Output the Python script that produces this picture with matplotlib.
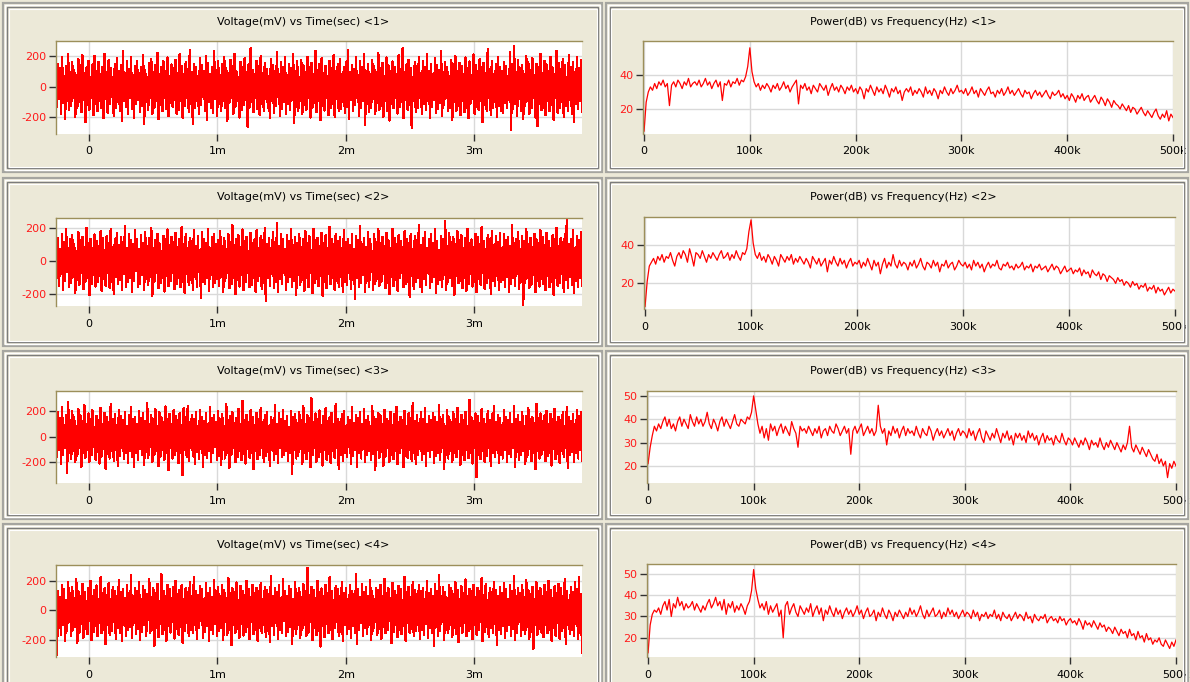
import matplotlib
matplotlib.use("Agg")
import matplotlib.pyplot as plt
import numpy as np
from matplotlib.patches import Rectangle
from matplotlib.ticker import EngFormatter, FixedLocator, MultipleLocator

plt.rcParams['font.family'] = ['DejaVu Sans']
plt.rcParams['axes.unicode_minus'] = False
plt.rcParams['path.simplify'] = False

# 4096 samples at 1 MHz, record starts 256 us before trigger
t_start, t_stop = -0.256e-3, 3.84e-3
f_start, f_stop = 0.0, 500e3

# display envelope of each channel (mV): max / min of the samples per screen column
hi1 = [85, 150, 120, 190, 70, 135, 210, 95, 160, 110, 75, 180, 140, 205, 90, 125, 170, 65, 145, 200,
       105, 160, 80, 130, 215, 95, 175, 120, 60, 150, 185, 100, 140, 230, 85, 165, 115, 195, 75, 135,
       170, 90, 125, 205, 110, 65, 155, 180, 95, 140, 220, 80, 130, 165, 105, 190, 70, 145, 120, 175,
       90, 210, 135, 80, 160, 115, 240, 95, 150, 125, 70, 185, 140, 100, 200, 155, 85, 130, 230, 110,
       165, 75, 145, 195, 120, 90, 175, 135, 215, 100, 65, 160, 125, 185, 95, 145, 250, 110, 80, 170,
       135, 200, 90, 155, 115, 70, 180, 140, 105, 225, 85, 160, 130, 190, 75, 145, 120, 210, 100, 165,
       60, 175, 140, 95, 195, 125, 155, 80, 235, 110, 150, 185, 90, 135, 70, 170, 120, 205, 100, 145,
       180, 85, 130, 160, 240, 95, 140, 115, 190, 75, 165, 125, 210, 105, 150, 80, 175, 135, 95, 220,
       120, 155, 70, 190, 140, 100, 165, 130, 85, 205, 115, 250, 95, 145, 175, 120, 65, 160, 135, 195,
       90, 170, 125, 215, 105, 150, 80, 185, 140, 110, 230, 95, 160, 130, 70, 175, 145, 200, 100, 155,
       135, 85, 190, 120, 165, 75, 210, 140, 100, 180, 125, 155, 90, 245, 115, 170, 80, 145, 195, 130,
       105, 160, 135, 70, 225, 150, 267, 95, 175, 120, 140, 85, 200, 160, 110, 185, 75, 150, 130, 215,
       90, 170, 145, 100, 195, 125, 80, 235, 155, 115, 180, 140, 65, 205, 130, 160, 95, 190, 120, 175]
lo1 = [-130, -80, -175, -105, -210, -90, -150, -125, -70, -195, -140, -100, -165, -85, -230, -120, -150, -75, -185, -110,
       -160, -95, -140, -205, -80, -170, -115, -65, -190, -135, -100, -155, -220, -90, -130, -175, -70, -145, -200, -110,
       -85, -165, -125, -240, -100, -150, -75, -180, -135, -95, -210, -120, -160, -70, -145, -190, -105, -130, -85, -175,
       -150, -90, -200, -125, -75, -165, -110, -245, -140, -95, -180, -120, -65, -155, -215, -100, -135, -170, -80, -190,
       -115, -160, -90, -140, -225, -105, -70, -175, -130, -95, -200, -150, -120, -85, -260, -135, -100, -165, -75, -145,
       -185, -110, -155, -80, -135, -205, -95, -170, -125, -65, -190, -145, -100, -175, -115, -150, -85, -235, -130, -160,
       -95, -180, -120, -150, -75, -200, -135, -105, -165, -90, -215, -125, -155, -70, -185, -140, -110, -195, -80, -160,
       -145, -100, -170, -130, -210, -85, -155, -120, -75, -190, -140, -95, -250, -115, -165, -135, -80, -180, -105, -150,
       -125, -195, -90, -160, -220, -110, -140, -70, -175, -130, -100, -205, -85, -150, -120, -270, -95, -165, -135, -75,
       -180, -115, -150, -95, -200, -130, -85, -170, -145, -105, -190, -120, -70, -160, -135, -215, -100, -155, -125, -185,
       -90, -165, -140, -205, -110, -80, -175, -130, -150, -95, -230, -120, -160, -75, -185, -140, -100, -195, -125, -155,
       -170, -105, -135, -85, -280, -145, -115, -190, -80, -160, -210, -125, -95, -175, -140, -70, -200, -255, -110, -150,
       -135, -185, -95, -160, -120, -215, -75, -170, -140, -100, -195, -125, -155, -85, -180, -230, -110, -145, -90, -165]

hi2 = [95, 140, 70, 165, 115, 190, 80, 130, 155, 100, 60, 175, 125, 145, 85, 200, 110, 135, 75, 160,
       120, 90, 180, 140, 65, 150, 105, 195, 85, 130, 170, 95, 145, 115, 210, 75, 160, 125, 100, 185,
       135, 70, 155, 110, 175, 90, 140, 200, 80, 125, 165, 105, 60, 150, 130, 190, 95, 145, 115, 170,
       85, 135, 205, 100, 160, 75, 140, 120, 185, 90, 150, 65, 175, 130, 110, 195, 80, 145, 160, 100,
       125, 180, 90, 140, 70, 165, 115, 215, 95, 135, 155, 85, 190, 120, 145, 60, 170, 105, 130, 185,
       75, 150, 125, 200, 100, 140, 80, 175, 115, 228, 90, 160, 135, 70, 155, 120, 190, 95, 145, 110,
       165, 85, 130, 180, 105, 150, 65, 195, 125, 140, 90, 170, 110, 155, 75, 205, 135, 100, 160, 120,
       145, 80, 185, 115, 135, 95, 165, 70, 150, 125, 210, 100, 140, 85, 175, 130, 60, 160, 115, 190,
       105, 145, 90, 170, 125, 75, 195, 140, 100, 155, 120, 85, 180, 135, 110, 165, 70, 150, 125, 215,
       95, 140, 175, 80, 130, 160, 105, 190, 120, 65, 150, 135, 240, 90, 170, 115, 145, 100, 180, 125,
       155, 75, 140, 195, 110, 130, 85, 165, 145, 100, 205, 120, 70, 155, 135, 180, 95, 150, 115, 170,
       80, 160, 125, 145, 90, 220, 105, 135, 175, 70, 150, 120, 195, 100, 140, 85, 165, 130, 110, 185,
       145, 95, 170, 120, 75, 155, 135, 200, 90, 140, 115, 165, 250, 100, 130, 185, 80, 150, 125, 175]
lo2 = [-105, -150, -80, -175, -120, -65, -160, -135, -95, -195, -115, -145, -75, -170, -125, -100, -205, -140, -85, -155,
       -130, -90, -180, -110, -150, -70, -165, -125, -200, -95, -140, -115, -175, -80, -155, -130, -100, -190, -120, -60,
       -160, -140, -85, -175, -110, -145, -95, -210, -125, -75, -165, -135, -105, -185, -90, -150, -120, -70, -170, -140,
       -100, -160, -130, -195, -80, -145, -115, -175, -95, -155, -65, -225, -125, -140, -105, -180, -85, -160, -135, -110,
       -150, -95, -190, -120, -75, -165, -140, -100, -200, -115, -155, -85, -175, -130, -70, -160, -145, -105, -185, -120,
       -90, -170, -135, -245, -100, -150, -80, -165, -125, -190, -110, -140, -75, -175, -130, -95, -155, -120, -205, -85,
       -145, -115, -180, -100, -160, -70, -195, -135, -110, -150, -90, -210, -125, -165, -80, -140, -105, -175, -120, -155,
       -95, -185, -130, -145, -75, -170, -115, -230, -100, -155, -135, -85, -190, -120, -160, -65, -175, -140, -110, -150,
       -125, -80, -165, -135, -200, -95, -150, -115, -180, -105, -70, -160, -140, -125, -215, -90, -170, -130, -100, -155,
       -185, -110, -145, -75, -165, -125, -95, -195, -140, -115, -160, -85, -175, -130, -105, -150, -205, -90, -135, -120,
       -165, -100, -180, -140, -80, -155, -125, -190, -110, -145, -70, -170, -135, -100, -200, -120, -150, -90, -175, -130,
       -115, -160, -95, -185, -140, -105, -150, -80, -170, -125, -268, -135, -100, -165, -145, -85, -190, -120, -155, -110,
       -140, -175, -90, -160, -125, -205, -100, -150, -135, -80, -185, -115, -165, -95, -145, -195, -120, -160, -105, -150]

hi3 = [110, 190, 145, 230, 90, 170, 270, 125, 200, 150, 85, 215, 165, 120, 245, 100, 180, 140, 205, 75,
       160, 130, 225, 95, 185, 150, 115, 250, 140, 175, 90, 210, 160, 125, 195, 80, 170, 230, 135, 155,
       100, 200, 145, 180, 120, 260, 95, 165, 135, 215, 85, 190, 150, 110, 235, 140, 175, 100, 205, 160,
       125, 180, 90, 220, 150, 240, 115, 170, 135, 195, 80, 210, 155, 120, 185, 100, 230, 145, 165, 110,
       200, 135, 175, 85, 250, 125, 160, 190, 105, 145, 215, 95, 280, 130, 170, 115, 205, 150, 90, 185,
       140, 225, 110, 165, 195, 85, 155, 130, 245, 100, 180, 140, 210, 120, 160, 75, 200, 150, 175, 105,
       190, 125, 235, 95, 165, 145, 300, 110, 180, 135, 205, 90, 160, 220, 120, 150, 185, 100, 255, 140,
       115, 175, 200, 85, 155, 130, 230, 105, 170, 145, 190, 95, 215, 125, 160, 80, 240, 150, 135, 185,
       165, 100, 210, 140, 120, 195, 90, 175, 230, 110, 155, 130, 200, 85, 180, 145, 265, 120, 165, 105,
       190, 140, 220, 95, 160, 125, 185, 150, 110, 245, 135, 170, 80, 205, 155, 115, 190, 140, 225, 100,
       170, 130, 195, 85, 285, 150, 120, 180, 160, 105, 215, 140, 95, 200, 130, 175, 240, 110, 165, 145,
       90, 205, 155, 125, 185, 100, 235, 140, 170, 115, 195, 80, 160, 220, 135, 150, 105, 255, 145, 180,
       120, 165, 200, 95, 175, 140, 215, 110, 155, 130, 190, 85, 230, 150, 120, 175, 100, 210, 160, 195]
lo3 = [-160, -100, -215, -140, -85, -280, -125, -175, -110, -200, -150, -90, -235, -130, -165, -105, -195, -145, -80, -180,
       -120, -210, -155, -95, -250, -135, -170, -115, -190, -100, -225, -150, -85, -175, -130, -205, -110, -160, -240, -125,
       -185, -95, -145, -220, -120, -165, -80, -200, -140, -110, -230, -155, -100, -180, -125, -260, -90, -170, -145, -115,
       -205, -130, -300, -105, -160, -190, -85, -150, -215, -120, -175, -95, -235, -140, -165, -110, -195, -130, -80, -185,
       -150, -220, -100, -170, -125, -245, -140, -90, -200, -160, -115, -185, -135, -210, -95, -165, -130, -255, -110, -175,
       -140, -85, -195, -150, -120, -230, -100, -180, -135, -205, -90, -160, -145, -115, -190, -125, -290, -105, -170, -150,
       -95, -215, -130, -175, -110, -240, -145, -85, -195, -160, -120, -225, -100, -180, -135, -205, -115, -165, -90, -250,
       -140, -190, -125, -160, -80, -210, -150, -105, -235, -130, -170, -95, -200, -145, -115, -185, -135, -260, -100, -165,
       -120, -225, -155, -90, -195, -140, -175, -110, -215, -130, -85, -240, -150, -165, -105, -190, -125, -210, -145, -95,
       -180, -135, -230, -115, -160, -100, -205, -150, -125, -185, -90, -250, -140, -170, -110, -200, -130, -160, -95, -220,
       -145, -185, -105, -165, -125, -210, -90, -315, -140, -175, -115, -195, -150, -85, -230, -130, -160, -105, -205, -140,
       -170, -100, -200, -135, -155, -90, -240, -120, -180, -145, -110, -215, -160, -95, -190, -130, -255, -115, -170, -140,
       -100, -190, -150, -125, -225, -95, -175, -135, -205, -110, -160, -85, -245, -145, -120, -195, -130, -170, -105, -185]

hi4 = [220, 130, 90, 175, 145, 70, 195, 115, 160, 85, 210, 135, 100, 180, 125, 65, 155, 200, 95, 140,
       170, 80, 225, 120, 150, 105, 185, 75, 160, 135, 95, 205, 125, 145, 85, 170, 115, 240, 100, 155,
       130, 190, 75, 165, 140, 110, 215, 90, 150, 120, 180, 65, 245, 135, 100, 175, 145, 85, 160, 200,
       110, 140, 170, 80, 155, 125, 190, 95, 230, 135, 105, 165, 145, 75, 185, 120, 150, 90, 205, 130,
       160, 100, 175, 140, 85, 220, 115, 150, 125, 190, 70, 165, 135, 105, 200, 145, 90, 175, 120, 155,
       130, 185, 80, 160, 140, 110, 235, 95, 150, 125, 170, 85, 210, 135, 100, 165, 145, 75, 195, 120,
       155, 90, 180, 130, 290, 105, 160, 140, 85, 200, 125, 150, 95, 175, 115, 225, 135, 70, 165, 145,
       100, 190, 120, 155, 80, 170, 135, 110, 250, 145, 90, 180, 125, 160, 100, 205, 130, 75, 155, 140,
       175, 95, 215, 120, 150, 85, 185, 135, 105, 165, 145, 70, 230, 125, 160, 90, 195, 140, 110, 175,
       130, 155, 80, 200, 120, 145, 100, 180, 135, 240, 95, 160, 125, 85, 170, 150, 110, 190, 140, 75,
       165, 120, 210, 100, 145, 130, 175, 90, 155, 135, 220, 105, 180, 70, 150, 125, 195, 140, 95, 160,
       115, 185, 145, 80, 170, 130, 235, 100, 155, 120, 175, 90, 205, 140, 110, 160, 75, 190, 130, 150,
       95, 175, 125, 200, 140, 85, 165, 115, 180, 150, 100, 215, 135, 70, 160, 125, 190, 145, 228, 110]
lo4 = [-300, -120, -165, -95, -205, -140, -80, -175, -130, -110, -220, -150, -90, -185, -125, -160, -70, -200, -145, -105,
       -175, -85, -155, -130, -230, -100, -165, -140, -75, -190, -120, -150, -210, -95, -170, -135, -110, -185, -85, -160,
       -125, -200, -145, -100, -175, -65, -155, -130, -240, -115, -180, -90, -160, -135, -205, -105, -150, -80, -190, -125,
       -165, -110, -220, -140, -85, -175, -130, -155, -95, -195, -120, -70, -185, -145, -105, -210, -130, -160, -90, -175,
       -140, -115, -200, -80, -165, -135, -235, -100, -150, -125, -185, -90, -170, -145, -110, -195, -75, -160, -130, -205,
       -120, -155, -95, -180, -140, -215, -105, -165, -85, -190, -130, -150, -70, -175, -145, -110, -225, -125, -160, -95,
       -185, -135, -100, -170, -150, -80, -200, -120, -165, -140, -245, -105, -180, -90, -155, -130, -195, -115, -75, -170,
       -145, -210, -95, -160, -125, -185, -105, -150, -230, -135, -85, -175, -120, -160, -100, -200, -140, -80, -165, -125,
       -190, -110, -155, -135, -70, -220, -145, -95, -180, -130, -160, -105, -205, -85, -150, -125, -175, -140, -100, -195,
       -135, -165, -90, -185, -120, -150, -240, -110, -170, -140, -80, -200, -130, -155, -95, -180, -115, -160, -215, -105,
       -150, -85, -175, -140, -125, -195, -100, -165, -130, -75, -210, -145, -110, -180, -120, -155, -90, -235, -135, -160,
       -105, -185, -140, -95, -170, -125, -200, -150, -80, -175, -130, -160, -110, -190, -145, -260, -100, -165, -125, -150,
       -180, -95, -155, -135, -205, -115, -170, -85, -190, -140, -120, -225, -100, -160, -135, -175, -90, -195, -150, -290]

# power spectra (dB), 0..500 kHz in 2 kHz bins
s1 = [7, 24, 30, 33, 31, 35, 32, 36, 34, 37, 33, 35, 22, 34, 36, 33, 37, 35, 32, 36, 34, 38, 33, 35, 36,
      34, 37, 33, 35, 38, 34, 36, 32, 35, 37, 33, 36, 25, 35, 34, 37, 33, 36, 35, 38, 34, 37, 36, 39, 45,
      56, 42, 36, 33, 35, 31, 34, 32, 35, 33, 30, 34, 32, 35, 31, 33, 36, 32, 34, 30, 33, 35, 37, 23, 34,
      32, 35, 31, 33, 29, 34, 32, 30, 35, 33, 31, 34, 28, 32, 35, 31, 33, 30, 34, 32, 29, 33, 31, 34, 30,
      32, 29, 33, 31, 26, 32, 30, 34, 31, 28, 33, 30, 32, 29, 34, 31, 27, 32, 30, 33, 29, 31, 25, 30, 32,
      30, 33, 28, 31, 29, 32, 30, 27, 33, 29, 31, 28, 32, 30, 26, 31, 29, 33, 30, 28, 32, 29, 31, 34, 30,
      31, 29, 32, 28, 30, 33, 29, 31, 27, 32, 30, 28, 31, 33, 29, 30, 27, 31, 29, 32, 28, 30, 33, 29, 31,
      28, 30, 32, 29, 27, 31, 29, 30, 26, 29, 31, 28, 30, 27, 29, 31, 28, 26, 30, 28, 29, 31, 27, 29, 26,
      28, 25, 29, 27, 24, 28, 26, 29, 25, 27, 28, 24, 26, 28, 25, 23, 27, 25, 22, 26, 24, 21, 25, 23, 22,
      20, 23, 21, 19, 22, 18, 21, 20, 17, 19, 21, 18, 16, 19, 17, 15, 18, 20, 16, 14, 17, 15, 19, 13, 17, 15]

s2 = [8, 21, 29, 31, 33, 30, 34, 32, 35, 31, 34, 33, 36, 32, 29, 34, 36, 33, 37, 35, 31, 38, 34, 29, 36,
      35, 33, 37, 34, 31, 35, 33, 36, 34, 32, 35, 37, 33, 34, 36, 32, 35, 33, 37, 34, 32, 36, 35, 38, 47,
      53, 41, 35, 33, 36, 32, 34, 31, 35, 33, 30, 34, 32, 29, 35, 33, 31, 34, 32, 35, 30, 33, 31, 34, 32,
      30, 33, 31, 28, 34, 32, 30, 33, 29, 31, 33, 26, 32, 30, 34, 31, 29, 33, 30, 32, 28, 31, 33, 29, 31,
      30, 32, 28, 31, 29, 33, 30, 27, 32, 29, 31, 25, 30, 33, 28, 31, 29, 35, 30, 28, 32, 29, 31, 30, 27,
      31, 29, 32, 28, 30, 33, 29, 27, 31, 30, 28, 32, 29, 31, 26, 30, 29, 32, 28, 30, 31, 27, 29, 32, 30,
      29, 31, 28, 30, 27, 32, 29, 31, 28, 30, 26, 29, 31, 28, 30, 29, 32, 28, 27, 30, 29, 31, 28, 29, 27,
      30, 28, 29, 31, 27, 29, 28, 30, 26, 29, 28, 30, 27, 28, 29, 26, 28, 30, 27, 29, 28, 25, 27, 29, 26,
      27, 28, 25, 27, 26, 28, 24, 27, 25, 26, 23, 27, 25, 24, 26, 22, 25, 24, 21, 24, 23, 22, 20, 23, 21,
      22, 19, 21, 20, 18, 21, 19, 20, 17, 19, 18, 20, 16, 18, 17, 19, 15, 18, 16, 17, 14, 16, 18, 15, 17, 16]

s3 = [21, 28, 33, 37, 35, 38, 36, 39, 41, 37, 40, 36, 38, 35, 39, 41, 37, 40, 38, 36, 42, 39, 37, 41, 38,
      40, 37, 39, 43, 38, 36, 40, 38, 35, 39, 41, 37, 40, 38, 36, 39, 42, 38, 37, 40, 39, 38, 41, 40, 43,
      50, 44, 38, 34, 37, 32, 36, 31, 38, 35, 37, 33, 36, 38, 34, 37, 35, 33, 39, 36, 34, 28, 37, 35, 36,
      34, 37, 35, 33, 36, 34, 37, 32, 35, 36, 33, 37, 35, 34, 38, 36, 33, 35, 37, 34, 36, 25, 35, 37, 34,
      36, 38, 33, 35, 37, 34, 36, 33, 35, 46, 37, 34, 36, 29, 35, 33, 37, 34, 36, 32, 35, 37, 33, 36, 34,
      35, 33, 37, 34, 32, 36, 34, 33, 37, 35, 31, 34, 36, 33, 35, 32, 34, 36, 33, 35, 31, 34, 36, 33, 35,
      34, 32, 36, 33, 35, 31, 34, 36, 32, 30, 35, 33, 31, 34, 32, 36, 33, 30, 34, 32, 35, 31, 33, 29, 34,
      32, 34, 31, 33, 30, 35, 32, 34, 31, 33, 29, 32, 34, 30, 33, 31, 32, 29, 33, 31, 30, 34, 31, 29, 32,
      31, 29, 32, 30, 28, 31, 29, 32, 30, 27, 31, 29, 30, 28, 32, 29, 27, 30, 28, 31, 29, 27, 30, 28, 26,
      29, 27, 30, 37, 28, 26, 29, 27, 25, 28, 26, 24, 27, 25, 23, 22, 25, 21, 23, 20, 22, 15, 21, 19, 22, 20]

s4 = [13, 26, 31, 33, 32, 34, 31, 35, 37, 33, 38, 30, 36, 34, 39, 35, 37, 33, 36, 34, 35, 37, 33, 36, 34,
      32, 35, 33, 36, 38, 34, 36, 39, 35, 37, 33, 38, 31, 36, 34, 37, 32, 35, 33, 36, 34, 31, 35, 37, 42,
      52, 43, 38, 34, 36, 33, 37, 31, 35, 32, 34, 36, 30, 33, 20, 35, 37, 31, 34, 36, 32, 30, 35, 33, 31,
      34, 32, 36, 30, 33, 35, 31, 34, 28, 33, 31, 35, 32, 30, 34, 31, 33, 29, 32, 34, 31, 33, 30, 32, 35,
      31, 33, 29, 32, 34, 30, 31, 33, 28, 32, 30, 34, 31, 29, 33, 31, 28, 32, 30, 33, 31, 29, 32, 30, 34,
      31, 33, 30, 32, 35, 31, 29, 33, 30, 32, 34, 30, 31, 33, 29, 32, 30, 34, 31, 33, 30, 32, 29, 31, 33,
      30, 32, 31, 29, 33, 30, 32, 28, 31, 30, 32, 29, 31, 30, 33, 29, 31, 28, 32, 30, 29, 31, 28, 30, 32,
      29, 31, 30, 28, 32, 29, 30, 27, 31, 29, 28, 30, 29, 31, 27, 29, 30, 28, 29, 27, 30, 28, 29, 26, 28,
      29, 27, 28, 26, 29, 27, 24, 28, 26, 27, 25, 28, 26, 24, 27, 25, 26, 23, 25, 24, 22, 25, 23, 21, 24,
      22, 23, 20, 24, 21, 22, 19, 23, 20, 21, 18, 22, 19, 20, 17, 19, 18, 20, 17, 16, 19, 17, 15, 18, 16, 19]

highs = [hi1, hi2, hi3, hi4]
lows = [lo1, lo2, lo3, lo4]
spectra = [s1, s2, s3, s4]
channels = ['1', '2', '3', '4']

# panel layout in pixels
W, H = 1190, 682
time_boxes = [(56, 41, 582, 134), (56, 218, 582, 306), (56, 391, 582, 483), (56, 565, 582, 657)]
spec_boxes = [(643, 41, 1173, 134), (644, 217, 1175, 309), (647, 391, 1176, 483), (647, 564, 1176, 657)]
time_ylims = [(-308, 298), (-273, 260), (-362, 356), (-316, 309)]
spec_ylims = [(5.3, 60), (6.7, 54.5), (12.7, 52.1), (11, 54.6)]
spec_yticks = [[20, 40], [20, 40], [20, 30, 40, 50], [20, 30, 40, 50]]
row_frames = [(3, 172), (178, 346), (351, 519), (524, 692)]
title_y = [22, 197, 371, 545]

BG = '#ECE9D8'
OLIVE = '#9C8F5A'
GRID = '#D9D9D9'


def fig_rect(x0, y0, x1, y1):
    return [x0 / W, 1 - y1 / H, (x1 - x0) / W, (y1 - y0) / H]


def draw_frame(fig, x0, y0, x1, y1):
    # grooved border like a dialog group box
    for inset, col, lw in [(0, '#A5A5A0', 1.6), (2, 'white', 1.0), (4, '#7C7C7C', 1.0), (5.5, 'white', 0.8)]:
        r = fig_rect(x0 + inset, y0 + inset, x1 - inset, y1 - inset)
        fig.add_artist(Rectangle((r[0], r[1]), r[2], r[3], transform=fig.transFigure,
                                 fill=False, edgecolor=col, linewidth=lw))


def style_axes(ax):
    ax.set_facecolor('white')
    for side in ['right', 'bottom']:
        ax.spines[side].set_visible(False)
    for side in ['top', 'left']:
        ax.spines[side].set_color(OLIVE)
        ax.spines[side].set_linewidth(1.0)
    ax.grid(True, color=GRID, linewidth=1.0)
    ax.set_axisbelow(True)
    ax.tick_params(axis='both', direction='out', length=5, width=1, color='#303030', labelsize=8)
    ax.tick_params(axis='x', pad=4, labelcolor='black')
    ax.tick_params(axis='y', pad=2, labelcolor='#FF1A1A')
    ax.xaxis.set_major_formatter(EngFormatter(sep=''))


fig = plt.figure(figsize=(W / 100, H / 100), dpi=100, facecolor=BG)

for i in range(4):
    y0, y1 = row_frames[i]
    draw_frame(fig, 3, y0, 602, y1)
    draw_frame(fig, 606, y0, 1188, y1)

    # time domain: trace swings max -> min -> max across each screen column
    hi = np.array(highs[i], dtype=float)
    lo = np.array(lows[i], dtype=float)
    trace = np.column_stack([hi, lo]).ravel()
    t = np.linspace(t_start, t_stop, len(trace))
    ax = fig.add_axes(fig_rect(*time_boxes[i]))
    style_axes(ax)
    ax.plot(t, trace, color='#FF0000', linewidth=1.0, antialiased=False)
    ax.set_xlim(t_start, t_stop)
    ax.set_ylim(*time_ylims[i])
    ax.xaxis.set_major_locator(MultipleLocator(1e-3))
    ax.yaxis.set_major_locator(FixedLocator([-200, 0, 200]))
    fig.text(303 / W, 1 - title_y[i] / H, f'Voltage(mV) vs Time(sec) <{channels[i]}>',
             ha='center', va='center', fontsize=8, color='black')

    # spectrum
    s = np.array(spectra[i], dtype=float)
    f = np.linspace(f_start, f_stop, len(s))
    ax = fig.add_axes(fig_rect(*spec_boxes[i]))
    style_axes(ax)
    ax.plot(f, s, color='#FF0000', linewidth=0.9)
    ax.set_xlim(-1000, f_stop)
    ax.set_ylim(*spec_ylims[i])
    ax.xaxis.set_major_locator(MultipleLocator(100e3))
    ax.yaxis.set_major_locator(FixedLocator(spec_yticks[i]))
    fig.text(903 / W, 1 - title_y[i] / H, f'Power(dB) vs Frequency(Hz) <{channels[i]}>',
             ha='center', va='center', fontsize=8, color='black')

fig.savefig('out.png', dpi=100, facecolor=BG)
